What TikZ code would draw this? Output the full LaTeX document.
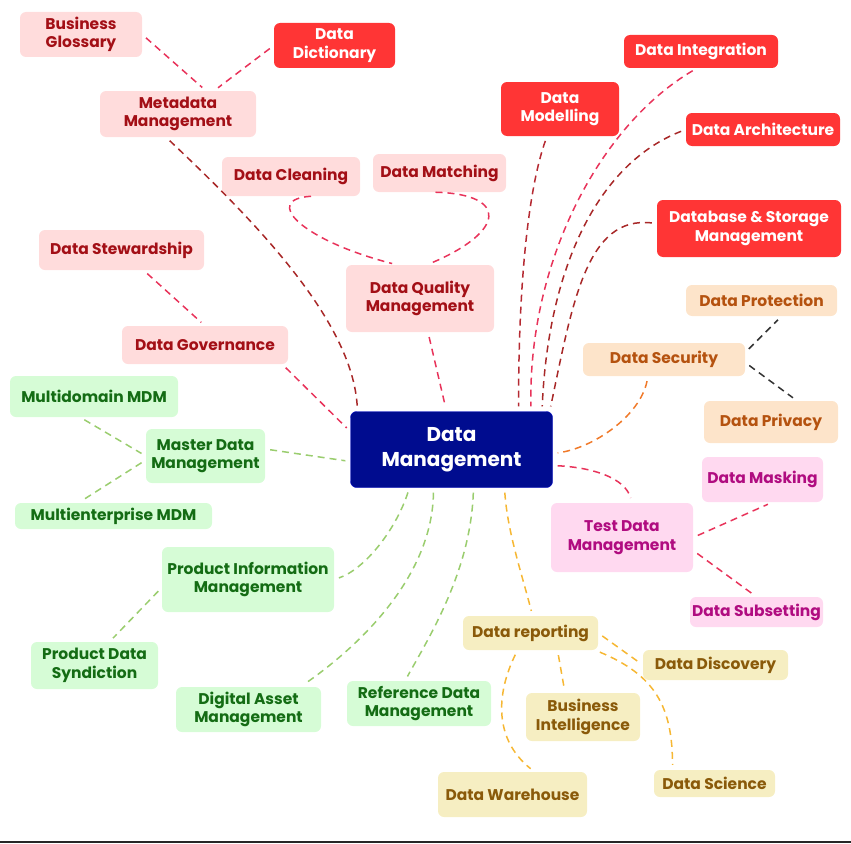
\documentclass[tikz,border=0pt]{standalone}
\usepackage{fontspec}
\setmainfont{Poppins}
\usetikzlibrary{arrows}
\definecolor{navy}{HTML}{000C8F}
\definecolor{redfill}{HTML}{FFDCDC}
\definecolor{redtext}{HTML}{A30F16}
\definecolor{hotred}{HTML}{FF3535}
\definecolor{orfill}{HTML}{FDE4CA}
\definecolor{ortext}{HTML}{B5520F}
\definecolor{pkfill}{HTML}{FFD9F0}
\definecolor{pktext}{HTML}{B00C80}
\definecolor{ylfill}{HTML}{F6EEC2}
\definecolor{yltext}{HTML}{8A5A0A}
\definecolor{grfill}{HTML}{D6FCD6}
\definecolor{grtext}{HTML}{146C14}
\definecolor{linkred}{HTML}{E8335A}
\definecolor{linkdark}{HTML}{A82828}
\definecolor{linkor}{HTML}{F07A2A}
\definecolor{linkgold}{HTML}{F6B733}
\definecolor{linkgreen}{HTML}{9ACD6E}
\tikzstyle{box}=[rounded corners=6pt, align=center, inner sep=2pt, font=\bfseries\fontsize{15.5}{18.5}\selectfont]
\tikzstyle{redbox}=[box, fill=redfill, text=redtext]
\tikzstyle{hotbox}=[box, fill=hotred, text=white]
\tikzstyle{orbox}=[box, fill=orfill, text=ortext]
\tikzstyle{pkbox}=[box, fill=pkfill, text=pktext]
\tikzstyle{ylbox}=[box, fill=ylfill, text=yltext]
\tikzstyle{grbox}=[box, fill=grfill, text=grtext]
\tikzstyle{link}=[draw, line width=1.5pt, dash pattern=on 7pt off 5pt, shorten <=5pt, shorten >=5pt]

\begin{document}
\begin{tikzpicture}[x=1pt, y=-1pt]
  \useasboundingbox (0,0) rectangle (851,843);

  \node[box, fill=navy, draw=blue!50!navy, text=white, minimum width=202pt, minimum height=76pt,
        font=\bfseries\fontsize{20}{25}\selectfont] (dm) at (451.5,449.5) {Data\\Management};

  % governance side
  \foreach \x/\y/\w/\h/\name/\txt in {81/34.5/122/45/gloss/{Business\\Glossary}, 178/114/156/46/meta/{Metadata\\Management},
      291/176.5/138/39/clean/{Data Cleaning}, 439.5/173/133/38/match/{Data Matching},
      121.5/250/165/40/stew/{Data Stewardship}, 420/298.5/148/67/dqm/{Data Quality\\Management},
      205/345/166/38/gov/{Data Governance}}
    \node[redbox, minimum width=\w pt, minimum height=\h pt] (\name) at (\x,\y) {\txt};

  \foreach \x/\y/\w/\h/\name/\txt in {334.5/45.5/121/45/dict/{Data\\Dictionary}, 560/109/118/54/modl/{Data\\Modelling},
      701/51.5/154/33/integ/{Data Integration}, 763/129.5/154/33/arch/{Data Architecture},
      749/228.5/184/57/store/{Database \& Storage\\Management}}
    \node[hotbox, minimum width=\w pt, minimum height=\h pt] (\name) at (\x,\y) {\txt};

  \foreach \x/\y/\w/\h/\name/\txt in {761.5/300.5/151/31/prot/{Data Protection}, 664/359.5/162/33/sec/{Data Security},
      771/422/134/42/priv/{Data Privacy}}
    \node[orbox, minimum width=\w pt, minimum height=\h pt] (\name) at (\x,\y) {\txt};

  \foreach \x/\y/\w/\h/\name/\txt in {762.5/479.5/121/45/mask/{Data Masking}, 622/537.5/142/69/tdm/{Test Data\\Management},
      756.5/612/133/30/subs/{Data Subsetting}}
    \node[pkbox, minimum width=\w pt, minimum height=\h pt] (\name) at (\x,\y) {\txt};

  \foreach \x/\y/\w/\h/\name/\txt in {530.5/633/135/34/rep/{Data reporting}, 715.5/665/145/30/disc/{Data Discovery},
      583/717/114/48/bi/{Business\\Intelligence}, 512.5/794.5/149/45/wh/{Data Warehouse},
      714.5/783.5/121/27/sci/{Data Science}}
    \node[ylbox, minimum width=\w pt, minimum height=\h pt] (\name) at (\x,\y) {\txt};

  \foreach \x/\y/\w/\h/\name/\txt in {94/396.5/168/41/mdom/{Multidomain MDM}, 205.5/456/119/54/master/{Master Data\\Management},
      113.5/516/197/26/ment/{Multienterprise MDM}, 248/579.5/172/65/pim/{Product Information\\Management},
      94.5/665.5/127/47/synd/{Product Data\\Syndiction}, 248.5/709.5/145/45/dam/{Digital Asset\\Management},
      419/703.5/144/45/refd/{Reference Data\\Management}}
    \node[grbox, minimum width=\w pt, minimum height=\h pt] (\name) at (\x,\y) {\txt};

  % red links
  \path[link, linkred] (gloss.east) -- ([xshift=28pt]meta.north);
  \path[link, linkred] (dict.west) -- ([xshift=36pt]meta.north);
  \path[link, linkdark] ([xshift=-12pt]meta.south) .. controls +(90,85) and +(-5,-90) .. ([xshift=-94pt]dm.north);
  \path[link, linkred, shorten <=1pt] ([xshift=21pt]clean.south) .. controls +(-50,3) and +(-97,-25) .. ([xshift=-23pt]dqm.north);
  \path[link, linkred, shorten <=1pt] ([xshift=-5pt]match.south) .. controls +(75,2) and +(78,-33) .. ([xshift=7pt]dqm.north);
  \path[link, linkred] ([xshift=22pt]stew.south) -- (gov.north);
  \path[link, linkred] ([xshift=-6pt]gov.south east) -- ([yshift=18pt]dm.west);
  \path[link, linkred] ([xshift=8pt]dqm.south) -- ([xshift=-5pt]dm.north);
  \path[link, linkdark!80!linkred] ([xshift=-13pt]modl.south) .. controls +(-17,48) and +(0,-140) .. ([xshift=67pt]dm.north);
  \path[link, linkred] ([xshift=-4pt]integ.south) .. controls +(-97,57) and +(-3,-150) .. ([xshift=79.5pt]dm.north);
  \path[link, linkdark] (arch.west) .. controls +(-90,35) and +(6,-140) .. ([xshift=90.5pt]dm.north);
  \path[link, linkdark] ([yshift=5pt]store.west) .. controls +(-70,-8) and +(23,-110) .. ([xshift=-3pt]dm.north east);

  % security and test data
  \path[link, linkor] ([xshift=-16pt]sec.south) .. controls +(-8,40) and +(40,-5) .. ([yshift=-4pt]dm.east);
  \path[link, black!80] ([yshift=7pt]sec.east) -- ([xshift=20pt]prot.south);
  \path[link, black!80] ([yshift=-3pt]sec.east) -- ([xshift=26pt]priv.north);
  \path[link, linkred] ([yshift=-16pt]dm.east) .. controls +(40,2) and +(-7,-25) .. ([xshift=10pt]tdm.north);
  \path[link, linkred] (tdm.east) -- ([xshift=10pt]mask.south);
  \path[link, linkred] ([yshift=-13pt]tdm.east) -- (subs.north);

  % reporting
  \path[link, linkgold] ([xshift=53pt]dm.south) .. controls +(3,45) and +(-10,-40) .. ([xshift=2pt]rep.north);
  \path[link, linkgold] (rep.east) -- (disc.west);
  \path[link, linkgold] ([xshift=27pt]rep.south) -- ([xshift=-18pt]bi.north);
  \path[link, linkgold] ([xshift=-3pt]rep.south east) .. controls +(60,25) and +(0,-63) .. ([xshift=-42pt]sci.north);
  \path[link, linkgold] ([xshift=-13pt]rep.south) .. controls +(-22,45) and +(-40,-32) .. ([xshift=22pt]wh.north);

  % master data
  \path[link, linkgreen] ([xshift=-14pt]mdom.south) -- (master.west);
  \path[link, linkgreen] ([yshift=-4pt]master.west) -- ([xshift=-35pt]ment.north);
  \path[link, linkgreen] ([yshift=7pt]master.east) -- ([yshift=-12pt]dm.west);
  \path[link, linkgreen] ([xshift=-42pt]dm.south) .. controls +(-14,43) and +(30,-10) .. (pim.east);
  \path[link, linkgreen] ([yshift=-8pt]pim.west) -- ([xshift=15pt]synd.north);
  \path[link, linkgreen] ([xshift=-18pt]dm.south) .. controls +(-1,85) and +(65,-45) .. ([xshift=52pt]dam.north);
  \path[link, linkgreen] ([xshift=22pt]dm.south) .. controls +(-3,83) and +(25,-45) .. ([xshift=-14pt]refd.north);

  \draw[line width=2pt, black!85] (0,842) -- (851,842);
\end{tikzpicture}
\end{document}
